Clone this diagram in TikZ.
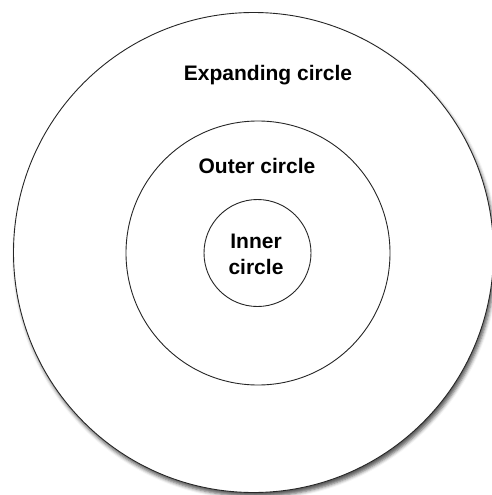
\documentclass[tikz,border=0pt]{standalone}
\usepackage{fontspec}
\setmainfont{Liberation Sans}
\usetikzlibrary{shadows.blur}
\begin{document}
\begin{tikzpicture}[x=1pt,y=-1pt,
  ring/.style={draw=black!85, line width=0.9pt, fill=white},
  lbl/.style={font=\bfseries\fontsize{21}{26}\selectfont, align=center, inner sep=0pt}]
\useasboundingbox (0,0) rectangle (492,495);
\node[ring, circle, minimum size=480pt, inner sep=0pt,
  blur shadow={shadow xshift=2pt, shadow yshift=-4pt, shadow opacity=65, shadow blur radius=3.5pt}]
  (expanding) at (253.5,252.5) {};
\node[ring, circle, minimum size=264pt, inner sep=0pt] (outer) at (258,253) {};
\node[ring, circle, minimum size=107pt, inner sep=0pt] (inner) at (257.5,253) {};
\node[lbl] (exptext) at (268,75) {Expanding circle};
\node[lbl] (outtext) at (257,166) {Outer circle};
\node[lbl] (intext) at (256,254) {Inner\\circle};
\end{tikzpicture}
\end{document}
